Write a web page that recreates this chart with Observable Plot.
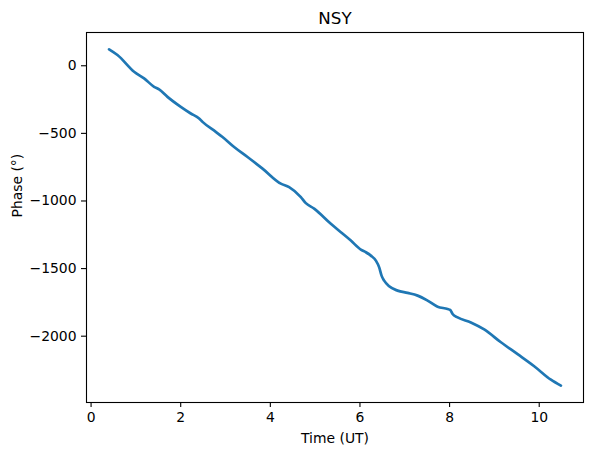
<!DOCTYPE html>
<html>
<head>
<meta charset="utf-8">
<script src="https://cdn.jsdelivr.net/npm/d3@7"></script>
<script src="https://cdn.jsdelivr.net/npm/@observablehq/plot@0.6"></script>
<style>
  html, body { margin: 0; padding: 0; background: #fff; }
  #chart { width: 592px; height: 455px; }
</style>
</head>
<body>
<div id="chart"></div>
<script>
const title = "NSY";
const xLabel = "Time (UT)";
const yLabel = "Phase (°)";
const xTicks = [0, 2, 4, 6, 8, 10];
const yTicks = [0, -500, -1000, -1500, -2000];

const timeUT = [0.402, 0.589, 0.960, 1.183, 1.406, 1.518, 1.705, 2.002, 2.225, 2.411, 2.487, 2.783, 2.933, 3.192, 3.491, 3.826, 4.234, 4.420, 4.681, 4.792, 4.978, 5.350, 5.574, 5.797, 6.020, 6.132, 6.243, 6.355, 6.429, 6.482, 6.540, 6.652, 6.839, 7.063, 7.286, 7.509, 7.732, 7.955, 8.013, 8.067, 8.179, 8.475, 8.772, 9.145, 9.518, 9.888, 10.261, 10.484];
const phase = [121.6, 79.3, -44.5, -93.4, -155.7, -175, -229.9, -304, -353, -390, -415, -489, -526.5, -600.7, -674.8, -760.8, -872, -897, -971, -1016, -1057, -1169, -1231, -1293, -1360, -1379, -1404, -1441, -1491, -1552, -1589, -1631, -1663, -1680, -1700, -1737, -1782, -1799, -1806, -1836, -1861, -1898, -1950, -2045, -2133, -2222, -2322, -2366];

const data = timeUT.map((t, i) => ({t, p: phase[i]}));

function padded(vals) {
  const [a, b] = d3.extent(vals);
  const m = 0.05 * (b - a);
  return [a - m, b + m];
}
const fmt = d => String(d).replace("-", "\u2212");

const chart = Plot.plot({
  width: 592,
  height: 455,
  marginLeft: 86,
  marginRight: 9,
  marginTop: 32,
  marginBottom: 53,
  style: {fontFamily: "'DejaVu Sans', sans-serif", fontSize: "13.9px", color: "black", background: "white"},
  x: {domain: padded(timeUT)},
  y: {domain: padded(phase)},
  marks: [
    Plot.line(data, {x: "t", y: "p", curve: "monotone-x", stroke: "#1f77b4", strokeWidth: 2.7, strokeLinejoin: "round", strokeLinecap: "round"}),
    Plot.frame({stroke: "black", strokeWidth: 1.1}),
    Plot.axisX({ticks: xTicks, tickSize: 5, tickPadding: 5, tickFormat: fmt, label: null, stroke: "black", strokeWidth: 1.1, fill: "black"}),
    Plot.axisY({ticks: yTicks, tickSize: 5, tickPadding: 5, tickFormat: fmt, label: null, stroke: "black", strokeWidth: 1.1, fill: "black"}),
    Plot.text([title], {frameAnchor: "top", dy: -14, text: d => d, fontSize: 16.7, fill: "black", lineAnchor: "middle"}),
    Plot.text([xLabel], {frameAnchor: "bottom", dy: 36, text: d => d, fontSize: 13.9, fill: "black", lineAnchor: "middle"}),
    Plot.text([yLabel], {frameAnchor: "left", dx: -69, rotate: -90, text: d => d, fontSize: 13.9, fill: "black", lineAnchor: "middle"})
  ]
});
document.getElementById("chart").appendChild(chart);
</script>
</body>
</html>
